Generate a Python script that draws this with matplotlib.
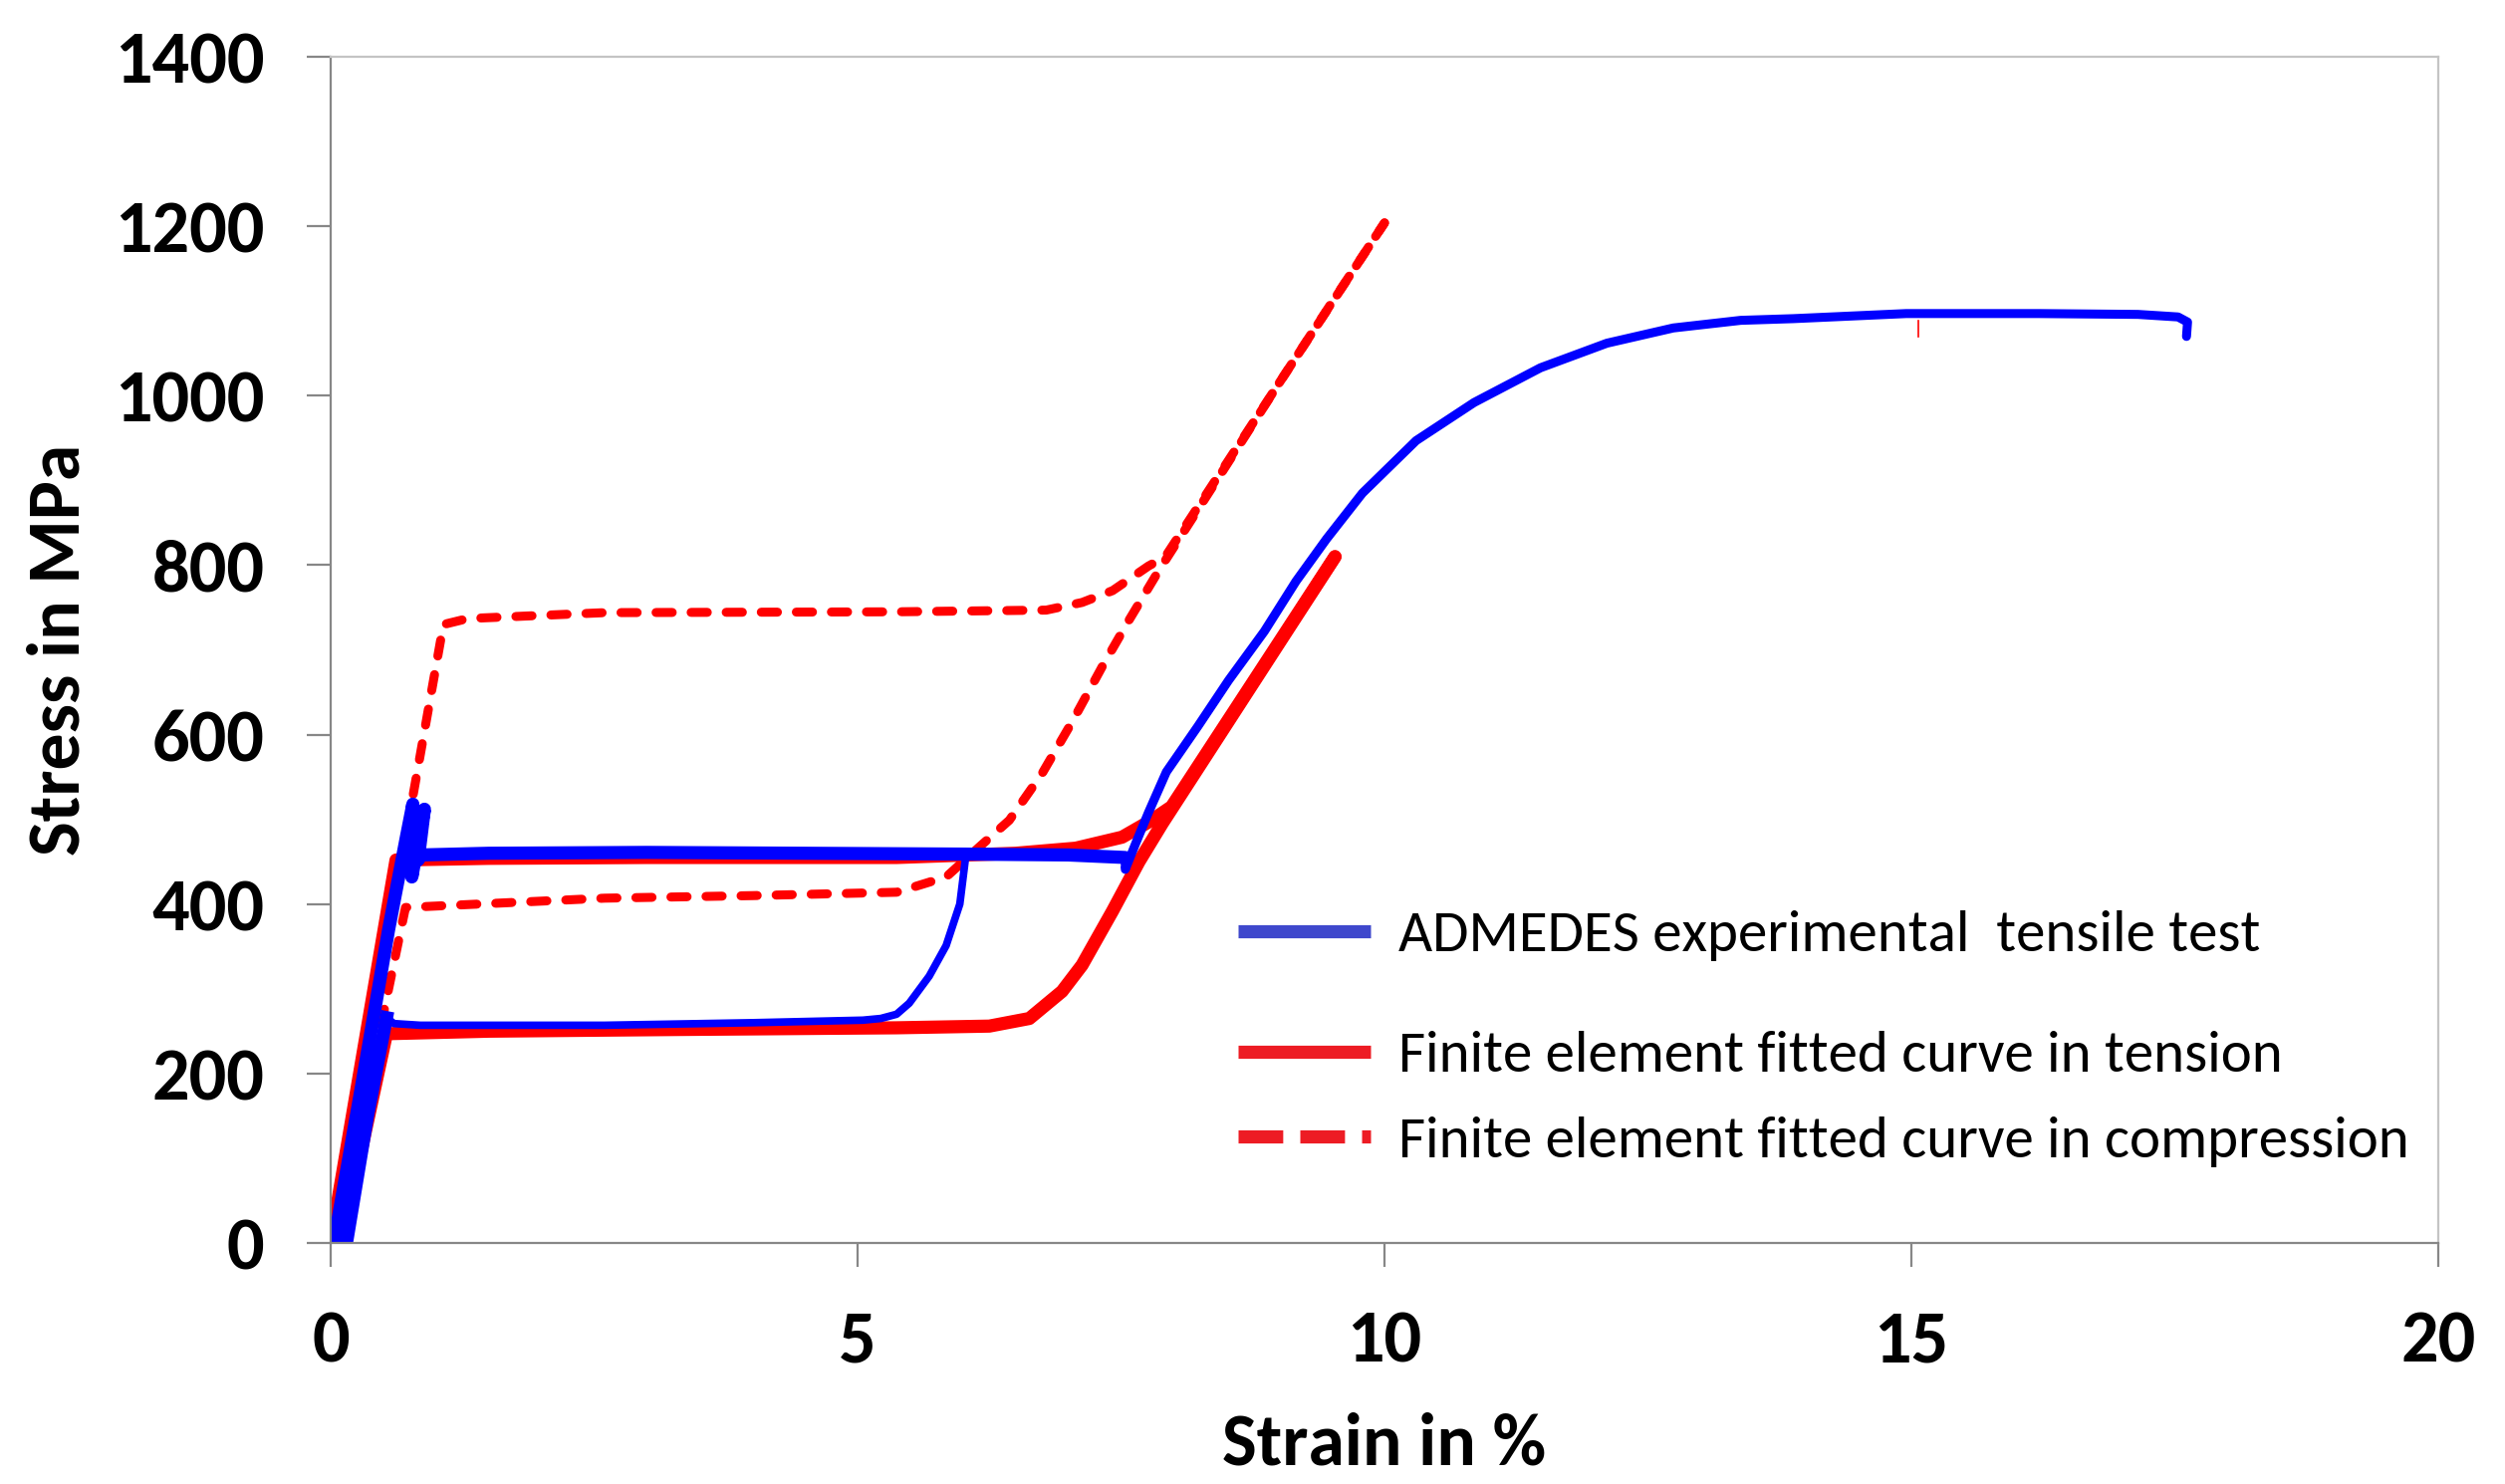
# Stress-strain curves: experimental tensile test vs FE fitted curves
import numpy as np
import matplotlib.pyplot as plt
from matplotlib.lines import Line2D
from matplotlib import font_manager as fm

# ---------------- data (strain in %, stress in MPa) ----------------
# experimental test, first loading with the noisy yield spikes
exp_load_x = [0.03, 0.30, 0.55, 0.72, 0.78, 0.74, 0.82, 0.77, 0.89, 0.83, 0.86]
exp_load_y = [0, 190, 370, 480, 518, 445, 505, 432, 512, 452, 458]

# upper plateau
exp_plateau_x = [0.86, 1.5, 3.0, 4.5, 6.03, 7.0, 7.54]
exp_plateau_y = [458, 460, 461, 460, 459, 458, 455]

# unloading after 6 %
exp_unload_x = [6.03, 6.01, 5.97, 5.84, 5.68, 5.49, 5.37, 5.22, 5.05, 4.0, 2.6, 1.5, 0.85, 0.60, 0.53]
exp_unload_y = [460, 440, 400, 351, 315, 283, 270, 265, 263, 260, 257, 257, 257, 259, 266]
exp_unload_end_x = [0.53, 0.35, 0.15]
exp_unload_end_y = [266, 150, 0]

# reloading up to fracture
exp_tail_x = [7.54, 7.54, 7.64, 7.76, 7.93, 8.23, 8.52, 8.86, 9.16, 9.45, 9.79, 10.30, 10.85,
              11.48, 12.11, 12.74, 13.38, 13.88, 14.95, 16.21, 17.15, 17.53, 17.62, 17.61]
exp_tail_y = [455, 441, 472, 508, 556, 610, 664, 722, 781, 831, 885, 947, 992,
              1033, 1062, 1080, 1089, 1091, 1097, 1097, 1096, 1093, 1087, 1070]

# FE fit in tension
fe_t_load_x = [0.0, 0.62, 1.5, 3.0, 5.37, 6.5, 7.07, 7.51, 7.79, 7.98, 9.53]
fe_t_load_y = [0, 452, 454, 455, 455, 460, 466, 479, 499, 515, 810]
fe_t_unload_x = [9.53, 7.89, 7.67, 7.42, 7.13, 6.94, 6.63, 6.25, 5.37, 3.3, 1.5, 0.53, 0.10]
fe_t_unload_y = [810, 495, 450, 392, 328, 297, 265, 256, 254, 252, 250, 247, 0]

# FE fit in compression
fe_c_load_x = [0.03, 0.71, 1.07, 1.3, 2.6, 5.37, 6.79, 7.13, 7.42, 7.76, 7.92, 8.5, 9.0, 9.5, 10.0]
fe_c_load_y = [0, 478, 730, 737, 744, 745, 747, 756, 770, 799, 810, 920, 1015, 1110, 1204]
fe_c_unload_x = [10.0, 9.0, 7.86, 7.57, 7.32, 7.04, 6.75, 6.44, 6.16, 5.84, 5.37, 4.0, 2.6, 0.71, 0.05]
fe_c_unload_y = [1204, 1015, 794, 734, 680, 616, 554, 499, 468, 432, 414, 410, 407, 396, 0]

# small stray red mark on the experimental curve
stray_x = [15.07, 15.07]
stray_y = [1089, 1070]

labels = ["ADMEDES experimental  tensile test",
          "Finite element fitted curve in tension",
          "Finite element fitted curve in compression"]


def have_font(name):
    try:
        fm.findfont(fm.FontProperties(family=name), fallback_to_default=False)
        return True
    except Exception:
        return False


# Calibri look-alike if present, otherwise close substitutes
if have_font("Carlito"):
    bold_font, tick_size, label_size = "Carlito", 53.5, 53
    leg_family, leg_size = "Carlito", 42.5
else:
    bold_font, tick_size, label_size = "Lato", 46, 49
    leg_family, leg_size = "IBM Plex Sans Condensed", 40

# ---------------- figure ----------------
fig = plt.figure(figsize=(25.15, 14.9), dpi=100)
ax = fig.add_axes([0.132, 0.1624, 0.8414, 0.7993])

red = "#ff0000"
blue = "#0000ff"

ax.plot(fe_t_load_x, fe_t_load_y, color=red, lw=9.5, solid_capstyle="round")
ax.plot(fe_t_unload_x, fe_t_unload_y, color=red, lw=9.5, solid_capstyle="round")
ax.plot(fe_c_load_x, fe_c_load_y, color=red, lw=6.5, dashes=(1.8, 2.1), dash_capstyle="round")
ax.plot(fe_c_unload_x, fe_c_unload_y, color=red, lw=6.5, dashes=(1.8, 2.1), dash_capstyle="round")
ax.plot(stray_x, stray_y, color=red, lw=1.2)

ax.plot(exp_load_x, exp_load_y, color=blue, lw=9.5, solid_joinstyle="round")
ax.plot(exp_plateau_x, exp_plateau_y, color=blue, lw=9.5, solid_capstyle="round")
ax.plot(exp_unload_x, exp_unload_y, color=blue, lw=5.5, solid_joinstyle="round")
ax.plot(exp_unload_end_x, exp_unload_end_y, color=blue, lw=9.5)
ax.plot(exp_tail_x, exp_tail_y, color=blue, lw=6.5, solid_capstyle="round")

ax.set_xlim(0, 20)
ax.set_ylim(0, 1400)
ax.set_xticks([0, 5, 10, 15, 20])
ax.set_yticks(np.arange(0, 1401, 200))

for s in ["left", "bottom"]:
    ax.spines[s].set_color("#878787")
    ax.spines[s].set_linewidth(1.6)
for s in ["top", "right"]:
    ax.spines[s].set_color("#c4c4c4")
    ax.spines[s].set_linewidth(1.6)

ax.tick_params(axis="both", direction="out", length=17, width=1.6, color="#878787", pad=31)
for lab in ax.get_xticklabels() + ax.get_yticklabels():
    lab.set_fontfamily(bold_font)
    lab.set_fontweight("bold")
    lab.set_fontsize(tick_size)

ax.set_xlabel("Strain in %", fontfamily=bold_font, fontweight="bold", fontsize=label_size, labelpad=27)
ax.set_ylabel("Stress in MPa", fontfamily=bold_font, fontweight="bold", fontsize=label_size, labelpad=17)

# ---------------- legend (two blocks, like the original) ----------------
leg_font = {"family": [leg_family, "DejaVu Sans"], "size": leg_size}
h_blue = Line2D([], [], color="#3f48cc", lw=9.5, solid_capstyle="butt")
h_red = Line2D([], [], color="#ed1c24", lw=9.5, solid_capstyle="butt")
h_dash = Line2D([], [], color="#ed1c24", lw=9.5, dashes=(3.4, 1.3))

leg1 = ax.legend([h_blue], [labels[0]], loc="center left", bbox_to_anchor=(0.4305, 0.259),
                 frameon=False, prop=leg_font, handlelength=2.25, handletextpad=0.47,
                 borderpad=0, borderaxespad=0)
ax.add_artist(leg1)
ax.legend([h_red, h_dash], labels[1:], loc="center left", bbox_to_anchor=(0.4305, 0.1213),
          frameon=False, prop=leg_font, handlelength=2.25, handletextpad=0.47,
          borderpad=0, borderaxespad=0, labelspacing=0.58)

plt.savefig("out.png", dpi=100)
